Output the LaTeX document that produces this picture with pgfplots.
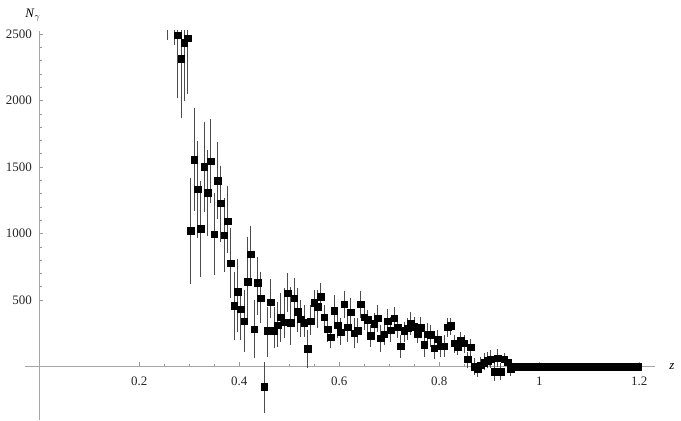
\documentclass[border=0pt]{standalone}
\usepackage{fontspec}
\setmainfont{Liberation Serif}
\usepackage{pgfplots}
\usepackage{pgfplotstable}
\pgfplotsset{compat=1.18}

% z, N, lower end, upper end of the error bar
\pgfplotstableread{
z     N     lo    hi
0.257 2600  2470  2730
0.270 2650  2430  2870
0.277 2490  2029  2950
0.284 2315  1878  2750
0.290 2435  2009  2860
0.297 2470  2064  2880
0.303 1021  632   1408
0.310 1555  1182  1929
0.317 1333  976   1683
0.323 1034  688   1382
0.330 1503  1172  1829
0.337 1305  994   1615
0.343 1545  1239  1846
0.350 994   701   1290
0.357 1397  1122  1673
0.363 1227  951   1498
0.370 987   726   1252
0.377 1094  863   1348
0.383 776   525   1026
0.390 455   212   701
0.397 563   274   796
0.403 432   212   575
0.410 342   124   563
0.417 638   325   964
0.423 844   675   1047
0.430 280   74    487
0.437 630   400   814
0.443 513   337   701
0.450 -152  -335  24
0.457 267   86    438
0.463 483   374   645
0.470 269   149   438
0.477 312   162   475
0.483 370   199   538
0.490 332   224   575
0.497 550   425   688
0.503 329   174   588
0.510 513   362   650
0.517 412   274   575
0.523 357   237   487
0.530 329   237   450
0.537 132   4     262
0.543 342   250   450
0.550 480   350   563
0.557 450   299   563
0.563 525   450   613
0.570 370   274   450
0.577 280   199   350
0.583 220   149   287
0.590 420   337   525
0.597 312   224   387
0.603 257   174   350
0.610 468   374   555
0.617 295   199   387
0.623 408   299   505
0.630 250   149   350
0.637 267   186   350
0.643 468   374   555
0.650 370   287   462
0.657 350   274   412
0.663 232   162   299
0.670 320   250   387
0.677 362   274   450
0.683 212   124   299
0.690 244   174   325
0.697 342   262   420
0.703 274   199   362
0.710 362   287   438
0.717 295   224   362
0.723 154   79    224
0.730 267   199   325
0.737 287   212   350
0.743 325   250   400
0.750 299   224   362
0.757 244   186   312
0.763 292   224   362
0.770 162   86    237
0.777 242   174   312
0.783 237   162   299
0.790 137   69    199
0.797 205   137   262
0.803 154   86    212
0.810 154   86    224
0.817 295   237   350
0.823 305   250   350
0.830 174   111   224
0.837 149   99    199
0.843 199   144   250
0.850 174   111   224
0.857 54    4     99
0.863 144   86    194
0.870 -2    -51   49
0.877 -21   -64   19
0.883 11    -39   62
0.890 29    -14   86
0.897 44    4     99
0.903 54    4     111
0.910 -39   -96   19
0.917 62    11    117
0.923 -39   -89   11
0.930 56    24    86
0.937 32    -6    62
0.943 -21   -56   11
}\spectrum

\begin{document}
\begin{tikzpicture}
\begin{axis}[
    at={(0,0)}, anchor=origin,
    scale only axis,
    width=629.8bp, height=389bp,
    xmin=-0.0286, xmax=1.231,
    ymin=-400, ymax=2525,
    axis lines=middle,
    axis line style={draw=black!35, line width=0.6bp, -},
    tick style={draw=black!40, line width=0.5bp},
    tick align=inside,
    major tick length=4bp, minor tick length=2.5bp,
    xtick={0.2,0.4,0.6,0.8,1,1.2},
    xticklabels={0.2,0.4,0.6,0.8,1,1.2},
    ytick={500,1000,1500,2000,2500},
    yticklabels={500,1000,1500,2000,2500},
    minor x tick num=3,
    minor y tick num=4,
    /pgf/number format/assume math mode=true,
    tick label style={font=\fontsize{13}{15}\selectfont, text=black!85},
    x tick label style={yshift=-7bp},
    y tick label style={xshift=-4bp},
    xlabel={\textit{z}},
    ylabel={\textit{N}$_\gamma$},
    every axis x label/.style={at={(axis cs:1.265,0)}, anchor=center, font=\fontsize{13}{15}\selectfont},
    every axis y label/.style={at={(axis cs:-0.0126,2643)}, anchor=center, font=\fontsize{13}{15}\selectfont},
    clip=true,
]
\addplot[
    only marks,
    mark=square*, mark size=3.3bp,
    mark options={black},
    error bars/.cd,
        y dir=both, y explicit,
        error bar style={line width=0.8bp, black!70},
        error mark options={line width=0.7bp, black!70, mark size=1.7bp},
] table[
    x=z, y=N,
    y error plus expr=\thisrow{hi}-\thisrow{N},
    y error minus expr=\thisrow{N}-\thisrow{lo},
] {\spectrum};
\addplot[only marks, mark=square*, mark size=3.3bp, mark options={black}] coordinates {
(0.950,0)(0.957,0)(0.963,0)(0.970,0)(0.977,0)(0.983,0)(0.990,0)(0.997,0)
(1.003,0)(1.010,0)(1.017,0)(1.023,0)(1.030,0)(1.037,0)(1.043,0)(1.050,0)
(1.057,0)(1.063,0)(1.070,0)(1.077,0)(1.083,0)(1.090,0)(1.097,0)(1.103,0)
(1.110,0)(1.117,0)(1.123,0)(1.130,0)(1.137,0)(1.143,0)(1.150,0)(1.157,0)
(1.163,0)(1.170,0)(1.177,0)(1.183,0)(1.190,0)(1.197,0)
};
\end{axis}
\pgfresetboundingbox
\path[use as bounding box] (-39.3bp,-54.5bp) rectangle (641.7bp,366.5bp);
\end{tikzpicture}
\end{document}
